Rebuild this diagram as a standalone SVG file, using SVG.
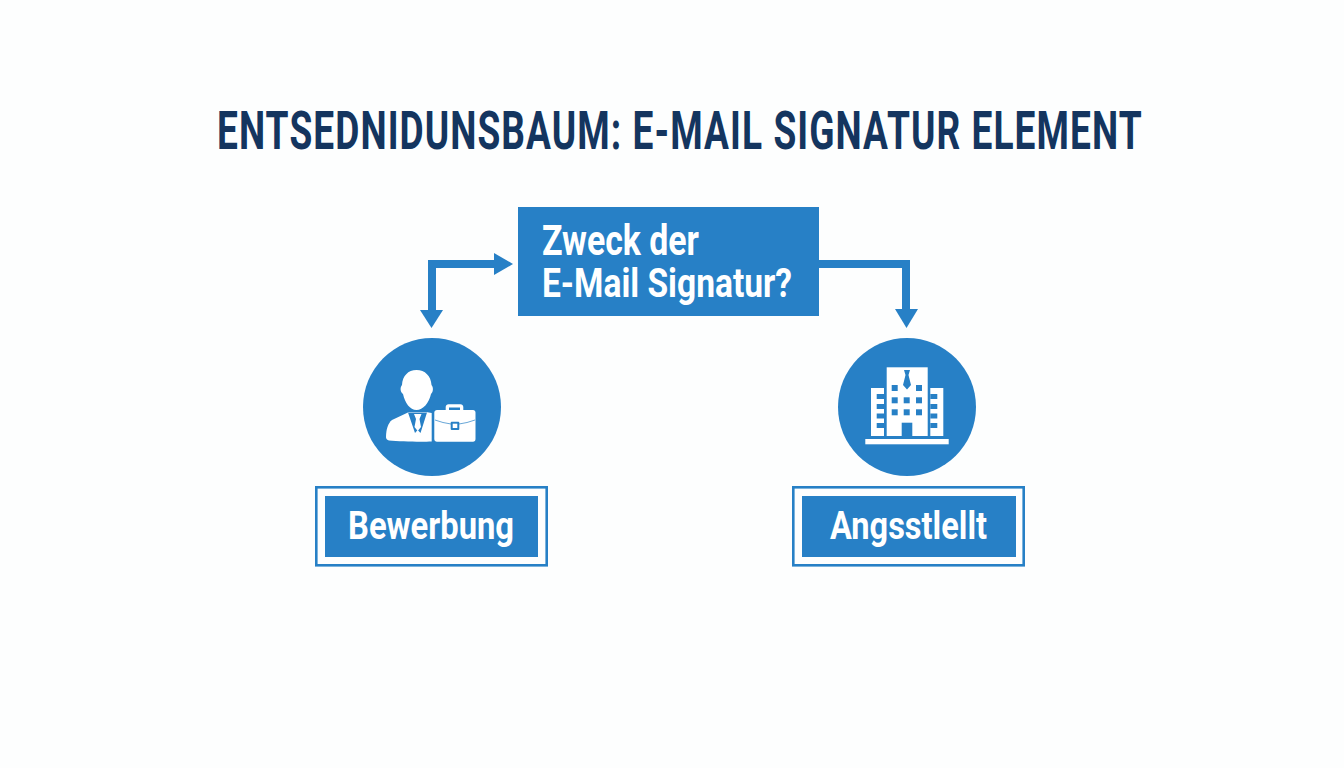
<svg xmlns="http://www.w3.org/2000/svg" width="1344" height="768" viewBox="0 0 1344 768">
<style>
.b{fill:#2780c6}
.w{fill:#fff}
.t{font-family:Roboto,"Liberation Sans",sans-serif;font-weight:700;fill:#fff}
.o{fill:none;stroke:#2780c6;stroke-width:2.6}
.c{fill:none;stroke:#2780c6;stroke-width:8}
</style>
<rect width="1344" height="768" fill="#fdfefe"/>
<text id="title" transform="translate(217 148.500) scale(.7 1)" x="0" y="0" font-family="Roboto,'Liberation Sans',sans-serif" font-weight="700" font-size="53" fill="#14355f" textLength="1321" lengthAdjust="spacing">ENTSEDNIDUNSBAUM: E-MAIL SIGNATUR ELEMENT</text>
<g id="connectors">
<path class="c" d="M495 264H432V311"/>
<path class="b" d="M494 253L513 264L494 275Z"/>
<path class="b" d="M420 310H443L431.500 328Z"/>
<path class="c" d="M819 264H906V310"/>
<path class="b" d="M895 309H918L906.500 328Z"/>
</g>
<g id="node-question">
<rect class="b" x="518" y="207" width="301" height="109"/>
<text class="t" x="542" y="255" font-size="42" textLength="157" lengthAdjust="spacingAndGlyphs">Zweck der</text>
<text class="t" x="542" y="296.500" font-size="41" textLength="250" lengthAdjust="spacingAndGlyphs">E-Mail Signatur?</text>
</g>
<g id="node-bewerbung-icon">
<circle class="b" cx="432" cy="407" r="69"/>
<path class="w" d="M416.500 370C408 370 402.500 376 402 385C400 387 400 392 403 394C405 403 410 410 416.500 410C423 410 429 403 431 394C433.500 392 433.500 387 431.500 385C431 376 425 370 416.500 370Z"/>
<path class="w" d="M409 412L392 420C388 423 386 430 386 437C386 439 387 440 389 440.500C400 441.500 420 442 431.700 441.500V413L426 412Z"/>
<path class="b" d="M408 412.500H427L420.500 433L417.700 430L415 433Z"/>
<path class="w" d="M414 414H421.500L419.500 419L421 427L417.700 431L414.500 427L416 419Z"/>
<path class="w" fill-rule="evenodd" d="M445.700 410V407C445.700 405.500 447 404.300 448.500 404.300H460.500C462 404.300 463.300 405.500 463.300 407V410H473C474.500 410 475.500 411 475.500 412.500V439C475.500 440.700 474.500 441.700 473 441.700H437C435.500 441.700 434.300 440.700 434.300 439V412.500C434.300 411 435.500 410 437 410ZM449 410H460V407.500H449Z"/>
<path d="M435 420Q443 423 451 424M459 424Q467 423 475 420" fill="none" stroke="#2780c6" stroke-width=".7"/>
<rect class="b" x="450.700" y="421.700" width="8.600" height="8.300" rx="1"/>
<rect class="w" x="452.700" y="423.700" width="4.600" height="4.300"/>
</g>
<g id="node-bewerbung">
<rect class="o" x="316.300" y="487.300" width="230.400" height="78"/>
<rect class="b" x="325" y="496" width="213" height="61"/>
<text class="t" x="348" y="538.500" font-size="38" textLength="166" lengthAdjust="spacingAndGlyphs">Bewerbung</text>
</g>
<g id="node-angestellt-icon">
<circle class="b" cx="907" cy="407" r="69"/>
<rect class="w" x="865.300" y="439" width="83.400" height="5.300"/>
<rect class="w" x="886.700" y="367.300" width="41" height="68.700"/>
<rect class="w" x="871" y="388" width="13" height="48"/>
<rect class="w" x="930.300" y="388" width="13" height="48"/>
<g class="b">
<path d="M904 370H910L908.500 375L911 385L907 389.500L903 385L905.500 375Z"/>
<rect x="891.700" y="385" width="6" height="6"/>
<rect x="916" y="385" width="6" height="6"/>
<rect x="891.700" y="397.300" width="6" height="6"/>
<rect x="903.700" y="397.300" width="6" height="6"/>
<rect x="916" y="397.300" width="6" height="6"/>
<rect x="891.700" y="409.300" width="6" height="6"/>
<rect x="903.700" y="409.300" width="6" height="6"/>
<rect x="916" y="409.300" width="6" height="6"/>
<rect x="901.700" y="422.700" width="10.600" height="13.300"/>
<rect x="876.700" y="394" width="7.300" height="5"/>
<rect x="876.700" y="404" width="7.300" height="5"/>
<rect x="876.700" y="413.500" width="7.300" height="5"/>
<rect x="876.700" y="423" width="7.300" height="5"/>
<rect x="930.300" y="394" width="7" height="5"/>
<rect x="930.300" y="404" width="7" height="5"/>
<rect x="930.300" y="413.500" width="7" height="5"/>
<rect x="930.300" y="423" width="7" height="5"/>
</g>
</g>
<g id="node-angestellt">
<rect class="o" x="793.300" y="487.300" width="230.400" height="78"/>
<rect class="b" x="802" y="496" width="214" height="61"/>
<text class="t" x="830" y="539" font-size="39" textLength="157" lengthAdjust="spacingAndGlyphs">Angsstlellt</text>
</g>
</svg>
